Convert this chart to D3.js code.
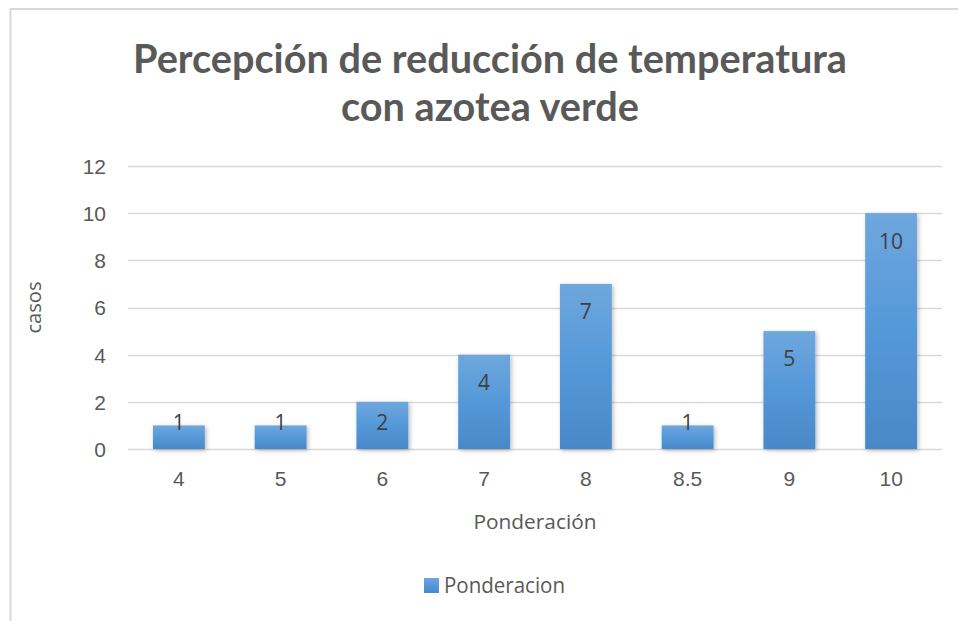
<!DOCTYPE html>
<html>
<head>
<meta charset="utf-8">
<script src="https://cdn.jsdelivr.net/npm/d3@7"></script>
<style>
  html, body { margin: 0; padding: 0; background: #fff; }
  svg { display: block; font-family: "Open Sans", "Noto Sans", sans-serif; }
</style>
</head>
<body>
<svg id="chart" width="958" height="621"></svg>
<script>
// Data
const categories = ["4", "5", "6", "7", "8", "8.5", "9", "10"];
const casos = [1, 1, 2, 4, 7, 1, 5, 10];
const yTicks = [0, 2, 4, 6, 8, 10, 12];
const titleLines = ["Percepción de reducción de temperatura", "con azotea verde"];
const xAxisTitle = "Ponderación";
const yAxisTitle = "casos";
const seriesName = "Ponderacion";

const svg = d3.select("#chart");
const W = 958, H = 621;
const plot = { left: 128, right: 942, top: 166, bottom: 449 };
const textColor = "#595959";

// chart frame
svg.append("rect")
  .attr("x", 10.5).attr("y", 9)
  .attr("width", W + 20).attr("height", H + 20)
  .attr("fill", "#fff").attr("stroke", "#d9d9d9").attr("stroke-width", 2);

const defs = svg.append("defs");
const grad = defs.append("linearGradient")
  .attr("id", "barGrad").attr("x1", 0).attr("y1", 0).attr("x2", 0).attr("y2", 1);
grad.append("stop").attr("offset", "0%").attr("stop-color", "#6fa7dd");
grad.append("stop").attr("offset", "50%").attr("stop-color", "#5498d9");
grad.append("stop").attr("offset", "100%").attr("stop-color", "#4a88c8");

const shadow = defs.append("filter").attr("id", "barShadow")
  .attr("x", "-20%").attr("y", "-20%").attr("width", "150%").attr("height", "150%");
shadow.append("feDropShadow")
  .attr("dx", 1.5).attr("dy", 1.5).attr("stdDeviation", 2)
  .attr("flood-color", "#000").attr("flood-opacity", 0.28);

// scales
const x = d3.scaleBand()
  .domain(categories)
  .range([plot.left, plot.right])
  .paddingInner(0.49)
  .paddingOuter(0.245);

const y = d3.scaleLinear()
  .domain([0, 12])
  .range([plot.bottom, plot.top]);

// gridlines
svg.append("g")
  .selectAll("line")
  .data(yTicks)
  .join("line")
  .attr("x1", plot.left).attr("x2", plot.right)
  .attr("y1", d => Math.round(y(d)) + 0.5).attr("y2", d => Math.round(y(d)) + 0.5)
  .attr("stroke", "#d9d9d9").attr("stroke-width", 1.5);

// y axis labels
const yAxis = svg.append("g")
  .attr("transform", `translate(${plot.left - 22},0)`)
  .call(d3.axisLeft(y).tickValues(yTicks).tickSize(0).tickPadding(0));
yAxis.select(".domain").remove();
yAxis.selectAll("text")
  .attr("fill", textColor)
  .style("font-size", "21px")
  .attr("dy", "0.35em");

// x axis labels
const xAxis = svg.append("g")
  .attr("transform", `translate(0,${plot.bottom + 21})`)
  .call(d3.axisBottom(x).tickSize(0).tickPadding(0));
xAxis.select(".domain").remove();
xAxis.selectAll("text")
  .attr("fill", textColor)
  .style("font-size", "21px")
  .attr("dy", "0.75em");

// bars
svg.append("g")
  .selectAll("rect")
  .data(casos)
  .join("rect")
  .attr("x", (d, i) => x(categories[i]))
  .attr("y", d => y(d))
  .attr("width", x.bandwidth())
  .attr("height", d => y(0) - y(d))
  .attr("fill", "url(#barGrad)")
  .attr("filter", "url(#barShadow)");

// value labels, inside end of bar (kept above the axis for short bars)
svg.append("g")
  .selectAll("text")
  .data(casos)
  .join("text")
  .attr("x", (d, i) => x(categories[i]) + x.bandwidth() / 2)
  .attr("y", d => Math.min(y(d) + 28, y(0) - 26))
  .attr("dy", "0.35em")
  .attr("text-anchor", "middle")
  .attr("fill", "#404040")
  .style("font-size", "21px")
  .text(d => d);

// title, sized so the first line spans about 714px
const title = svg.append("g")
  .selectAll("text")
  .data(titleLines)
  .join("text")
  .attr("x", 490)
  .attr("y", (d, i) => 73 + i * 48)
  .attr("text-anchor", "middle")
  .attr("fill", textColor)
  .style("font-family", "Lato, 'Open Sans', sans-serif")
  .style("font-size", "36px")
  .style("font-weight", "bold")
  .text(d => d);
const firstLen = title.node().getComputedTextLength();
if (firstLen > 0) {
  const fs = Math.min(40, 36 * 714 / firstLen);
  title.style("font-size", fs + "px");
}

// axis titles
svg.append("text")
  .attr("x", (plot.left + plot.right) / 2)
  .attr("y", 529)
  .attr("text-anchor", "middle")
  .attr("fill", textColor)
  .style("font-size", "20px")
  .attr("textLength", 123)
  .attr("lengthAdjust", "spacingAndGlyphs")
  .text(xAxisTitle);

svg.append("text")
  .attr("transform", `translate(41,${(plot.top + plot.bottom) / 2}) rotate(-90)`)
  .attr("text-anchor", "middle")
  .attr("fill", textColor)
  .style("font-size", "20px")
  .attr("textLength", 52)
  .attr("lengthAdjust", "spacingAndGlyphs")
  .text(yAxisTitle);

// legend
const legend = svg.append("g").attr("transform", "translate(424,578)");
legend.append("rect")
  .attr("width", 15).attr("height", 15)
  .attr("fill", "url(#barGrad)");
legend.append("text")
  .attr("x", 20).attr("y", 15)
  .attr("fill", textColor)
  .style("font-size", "21px")
  .attr("textLength", 121)
  .attr("lengthAdjust", "spacingAndGlyphs")
  .text(seriesName);
</script>
</body>
</html>
